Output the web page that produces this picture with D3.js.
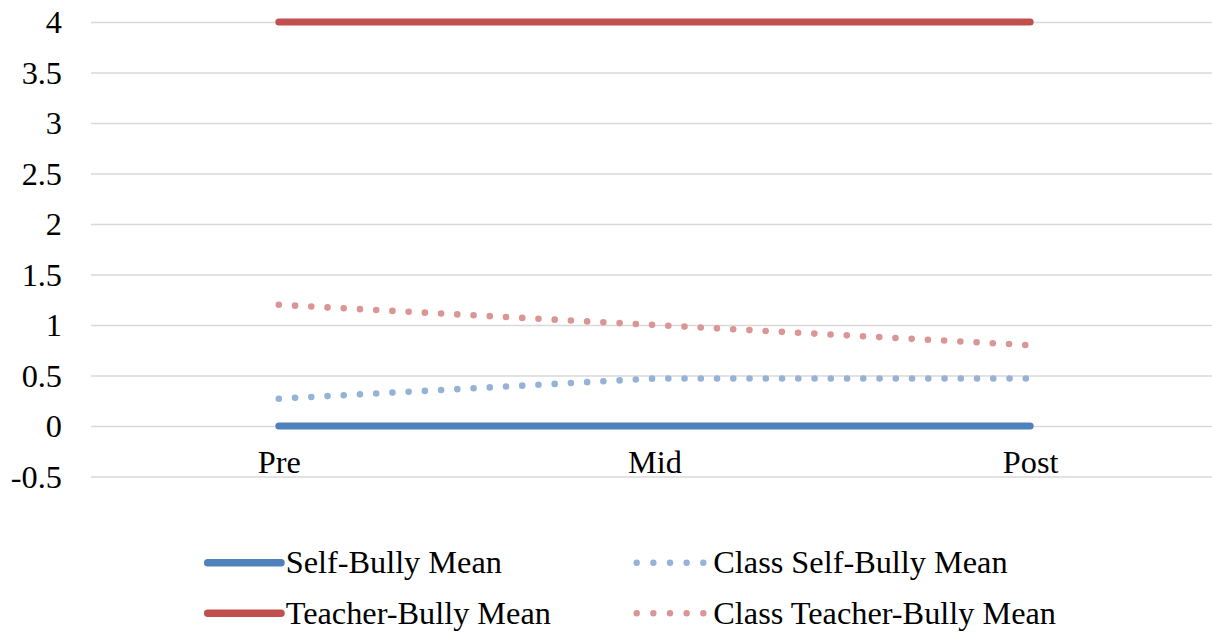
<!DOCTYPE html>
<html>
<head>
<meta charset="utf-8">
<script src="https://cdn.jsdelivr.net/npm/d3@7"></script>
<style>
  html, body { margin: 0; padding: 0; background: #fff; }
  svg { display: block; }
  text { font-family: "Liberation Serif", "Times New Roman", serif; fill: #000; }
</style>
</head>
<body>
<svg id="chart" width="1212" height="632"></svg>
<script>
// ---- data ----
const categories = ["Pre", "Mid", "Post"];
const selfBullyMean = [0, 0, 0];
const teacherBullyMean = [4, 4, 4];
const classSelfBullyMean = [0.27, 0.47, 0.47];
const classTeacherBullyMean = [1.2, 1.0, 0.8];
const yTicks = [-0.5, 0, 0.5, 1, 1.5, 2, 2.5, 3, 3.5, 4];
const seriesNames = ["Self-Bully Mean", "Class Self-Bully Mean", "Teacher-Bully Mean", "Class Teacher-Bully Mean"];

// ---- layout ----
const W = 1212, H = 632;
const plot = { left: 91, right: 1218, top: 22, bottom: 476.5 };
const fontSize = 32.3;

const svg = d3.select("#chart");

const x = d3.scalePoint().domain(categories).range([plot.left, plot.right]).padding(0.5);
const y = d3.scaleLinear().domain([-0.5, 4]).range([plot.bottom, plot.top]);

// gridlines + y labels via axis
const yAxis = d3.axisLeft(y)
  .tickValues(yTicks)
  .tickSize(-(W - plot.left))
  .tickPadding(29)
  .tickFormat(d => String(d));

const gy = svg.append("g")
  .attr("transform", `translate(${plot.left},0)`)
  .call(yAxis);
gy.select(".domain").remove();
gy.selectAll(".tick line").attr("stroke", "#D9D9D9").attr("stroke-width", 1.5);
gy.selectAll(".tick text")
  .attr("font-size", fontSize)
  .attr("font-family", "Liberation Serif, Times New Roman, serif")
  .attr("fill", "#000")
  .attr("dy", null)
  .attr("y", 10.5);

// x category labels
const xAxis = d3.axisBottom(x).tickSize(0).tickPadding(0);
const gx = svg.append("g")
  .attr("transform", `translate(0,${y(-0.5) - 3.5})`)
  .call(xAxis);
gx.select(".domain").remove();
gx.selectAll(".tick text")
  .attr("font-size", fontSize)
  .attr("font-family", "Liberation Serif, Times New Roman, serif")
  .attr("fill", "#000")
  .attr("dy", null)
  .attr("y", 0);

// ---- series ----
const series = [
  { name: seriesNames[0], values: selfBullyMean, color: "#4F81BD", dotted: false },
  { name: seriesNames[2], values: teacherBullyMean, color: "#C0504D", dotted: false },
  { name: seriesNames[1], values: classSelfBullyMean, color: "#95B3D7", dotted: true },
  { name: seriesNames[3], values: classTeacherBullyMean, color: "#D99694", dotted: true }
];

const line = d3.line()
  .x((d, i) => x(categories[i]))
  .y(d => y(d));

series.forEach(s => {
  const p = svg.append("path")
    .datum(s.values)
    .attr("d", line)
    .attr("fill", "none")
    .attr("stroke", s.color)
    .attr("stroke-linecap", "round")
    .attr("stroke-linejoin", "round");
  if (s.dotted) {
    p.attr("stroke-width", 6.6).attr("stroke-dasharray", "0 16.25");
  } else {
    p.attr("stroke-width", 7);
  }
});

// ---- legend ----
const legendItems = [
  { name: seriesNames[0], color: "#4F81BD", dotted: false, col: 0, row: 0 },
  { name: seriesNames[1], color: "#95B3D7", dotted: true, col: 1, row: 0 },
  { name: seriesNames[2], color: "#C0504D", dotted: false, col: 0, row: 1 },
  { name: seriesNames[3], color: "#D99694", dotted: true, col: 1, row: 1 }
];
const colX = [207.7, 636.7];
const rowY = [562.7, 613.3];

legendItems.forEach(it => {
  const lx = colX[it.col], ly = rowY[it.row];
  const g = svg.append("g");
  if (it.dotted) {
    g.append("line")
      .attr("x1", lx).attr("x2", lx + 67.2)
      .attr("y1", ly).attr("y2", ly)
      .attr("stroke", it.color)
      .attr("stroke-width", 6.4)
      .attr("stroke-linecap", "round")
      .attr("stroke-dasharray", "0 16.65");
    g.append("text")
      .attr("x", lx + 76.6).attr("y", ly + 10.5)
      .attr("font-size", fontSize)
      .text(it.name);
  } else {
    g.append("line")
      .attr("x1", lx).attr("x2", lx + 73.3)
      .attr("y1", ly).attr("y2", ly)
      .attr("stroke", it.color)
      .attr("stroke-width", 7.5)
      .attr("stroke-linecap", "round");
    g.append("text")
      .attr("x", lx + 78).attr("y", ly + 10.5)
      .attr("font-size", fontSize)
      .text(it.name);
  }
});
</script>
</body>
</html>
